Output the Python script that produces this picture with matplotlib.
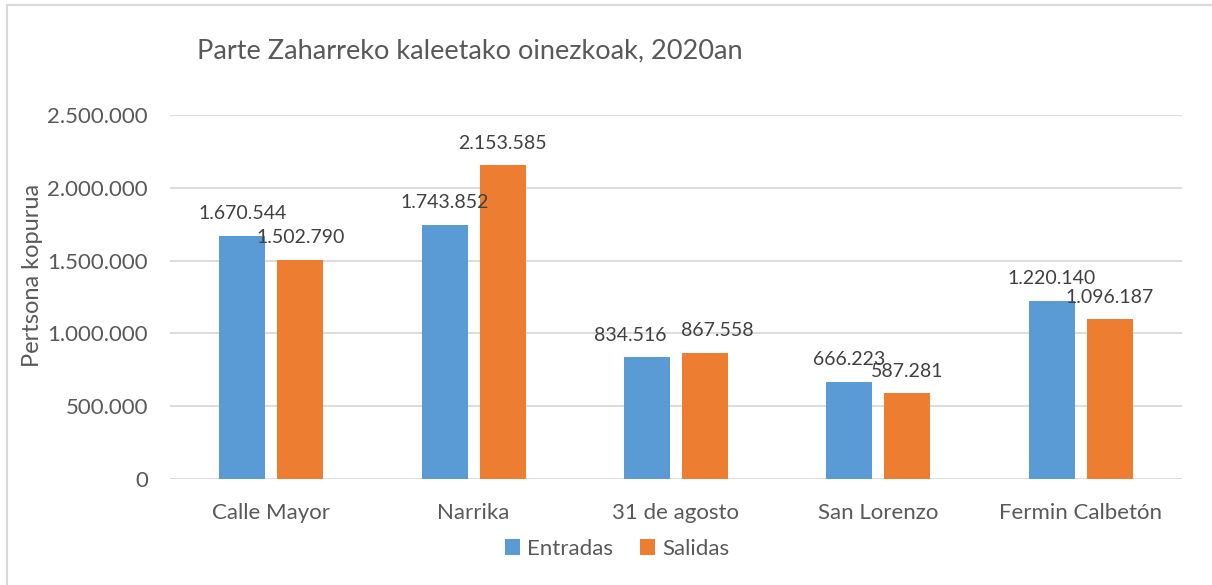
import matplotlib.pyplot as plt
import matplotlib.ticker as mticker
from matplotlib.lines import Line2D
import numpy as np

categories = ['Calle Mayor', 'Narrika', '31 de agosto', 'San Lorenzo', 'Fermin Calbetón']
entradas = [1670544, 1743852, 834516, 666223, 1220140]
salidas = [1502790, 2153585, 867558, 587281, 1096187]

BLUE = '#5B9BD5'
ORANGE = '#ED7D31'
TXT = '#595959'
GRID = '#D9D9D9'

plt.rcParams['font.family'] = ['Lato', 'DejaVu Sans']

def dots(v, pos=None):
    return f'{int(v):,}'.replace(',', '.')

fig = plt.figure(figsize=(12.12, 5.85), dpi=100)
ax = fig.add_axes([0.1403, 0.1812, 0.8349, 0.6222])

x = np.arange(len(categories))
w = 0.227
off = 0.143
b1 = ax.bar(x - off, entradas, w, color=BLUE, label='Entradas', zorder=3)
b2 = ax.bar(x + off, salidas, w, color=ORANGE, label='Salidas', zorder=3)

# Excel pushes the crowded 31 de agosto labels apart
nudge = {(0, 2): -12, (1, 2): 9}
for si, bars in enumerate((b1, b2)):
    for ci, r in enumerate(bars):
        ax.annotate(dots(r.get_height()), (r.get_x() + r.get_width() / 2, r.get_height()),
                    xytext=(nudge.get((si, ci), 0), 10), textcoords='offset points',
                    ha='center', va='bottom', fontsize=14, color='#404040', zorder=4)

ax.set_xlim(-0.5, len(categories) - 0.5)
ax.set_ylim(0, 2500000)
ax.yaxis.set_major_locator(mticker.MultipleLocator(500000))
ax.yaxis.set_major_formatter(mticker.FuncFormatter(dots))
ax.set_xticks(x)
ax.set_xticklabels(categories)
ax.tick_params(axis='both', length=0, labelsize=16, colors=TXT)
ax.tick_params(axis='y', pad=16)
ax.tick_params(axis='x', pad=17)
ax.grid(axis='y', color=GRID, linewidth=1.3, zorder=0)
for s in ax.spines.values():
    s.set_visible(False)

fig.text(197 / 1212, 1 - 51 / 585, 'Parte Zaharreko kaleetako oinezkoak, 2020an',
         fontsize=19.5, color=TXT, ha='left', va='center')
fig.text(33 / 1212, 1 - 275 / 585, 'Pertsona kopurua', rotation=90,
         fontsize=17, color=TXT, ha='center', va='center')

leg = fig.legend(handles=[b1, b2], labels=['Entradas', 'Salidas'], loc='center',
                 bbox_to_anchor=(617 / 1212, 1 - 549 / 585), ncol=2, frameon=False,
                 fontsize=16, handlelength=0.7, handleheight=0.7, handletextpad=0.3,
                 columnspacing=1.2)
for t in leg.get_texts():
    t.set_color(TXT)

# outer frame (only top and left visible in the crop)
fig.add_artist(Line2D([7 / 1212, 7 / 1212], [0, 1 - 5 / 585], transform=fig.transFigure,
                      color=GRID, linewidth=1.5))
fig.add_artist(Line2D([7 / 1212, 1], [1 - 5 / 585, 1 - 5 / 585], transform=fig.transFigure,
                      color=GRID, linewidth=1.5))

fig.savefig('out.png', dpi=100)
